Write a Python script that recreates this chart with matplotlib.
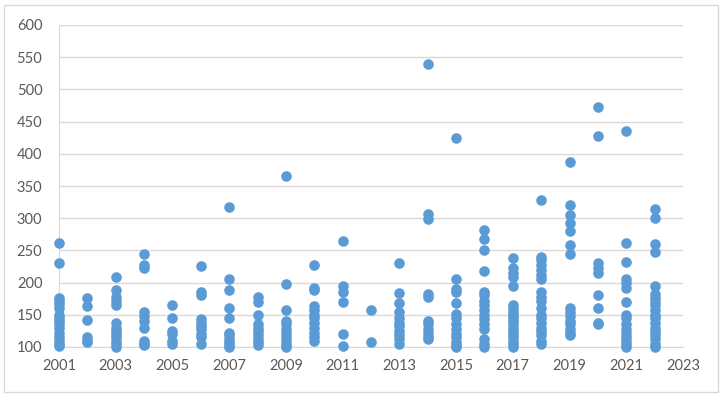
import matplotlib.pyplot as plt
from matplotlib.patches import Rectangle

# values, one list per year
values2001 = [262, 230, 176, 172, 167, 160, 150, 145, 140, 135, 130, 122, 115, 110, 105, 101]
values2002 = [176, 163, 142, 115, 110, 108]
values2003 = [208, 188, 178, 172, 165, 137, 130, 125, 120, 115, 110, 105, 100]
values2004 = [245, 228, 222, 155, 148, 140, 130, 110, 105, 103]
values2005 = [165, 145, 125, 120, 110, 105]
values2006 = [226, 185, 180, 143, 138, 133, 128, 120, 115, 105]
values2007 = [318, 205, 188, 160, 145, 122, 118, 113, 108, 103, 100]
values2008 = [178, 170, 150, 135, 130, 125, 118, 113, 108, 103]
values2009 = [365, 198, 158, 140, 135, 128, 122, 115, 110, 103, 100]
values2010 = [228, 192, 188, 163, 158, 150, 145, 138, 130, 122, 115, 110]
values2011 = [265, 195, 185, 170, 120, 102]
values2012 = [157, 107]
values2013 = [230, 184, 168, 155, 145, 138, 132, 125, 118, 112, 105]
values2014 = [540, 306, 298, 182, 178, 140, 135, 128, 122, 116, 112]
values2015 = [425, 206, 190, 185, 168, 152, 145, 135, 128, 120, 115, 108, 103, 100]
values2016 = [282, 268, 250, 218, 185, 180, 172, 165, 158, 150, 143, 135, 128, 112, 105, 100]
values2017 = [238, 222, 215, 208, 195, 165, 160, 155, 150, 145, 140, 135, 130, 125, 120, 115, 110, 105, 100]
values2018 = [328, 240, 235, 228, 220, 212, 205, 185, 178, 172, 160, 150, 145, 138, 130, 125, 118, 110, 105]
values2019 = [387, 320, 305, 292, 280, 258, 245, 160, 155, 148, 140, 135, 128, 122, 118]
values2020 = [472, 427, 230, 222, 215, 180, 160, 138, 135]
values2021 = [435, 262, 232, 205, 200, 192, 170, 150, 145, 135, 128, 122, 115, 110, 105, 100]
values2022 = [315, 300, 260, 248, 195, 182, 176, 170, 165, 158, 150, 145, 138, 130, 125, 118, 112, 105, 100]

years = list(range(2001, 2023))
allValues = [values2001, values2002, values2003, values2004, values2005, values2006,
             values2007, values2008, values2009, values2010, values2011, values2012,
             values2013, values2014, values2015, values2016, values2017, values2018,
             values2019, values2020, values2021, values2022]

xTicks = list(range(2001, 2024, 2))
yTicks = list(range(100, 601, 50))

xs = []
ys = []
for year, vals in zip(years, allValues):
    for v in vals:
        xs.append(year)
        ys.append(v)

plt.rcParams['font.family'] = ['Lato', 'DejaVu Sans']

fig = plt.figure(figsize=(7.23, 3.96), dpi=100)
ax = fig.add_axes([59 / 723, 1 - 347 / 396, (683 - 59) / 723, (347 - 25) / 396])

# light frame round the whole chart
fig.patches.append(Rectangle((4 / 723, 4 / 396), 714 / 723, 387 / 396, transform=fig.transFigure,
                             fill=False, edgecolor="#D9D9D9", linewidth=1))

ax.scatter(xs, ys, s=58, color="#5B9BD5", zorder=3, linewidths=0, clip_on=False)

ax.set_xlim(2001, 2023)
ax.set_ylim(100, 600)
ax.set_xticks(xTicks)
ax.set_yticks(yTicks)
ax.grid(axis="y", color="#D9D9D9", linewidth=1)
ax.set_axisbelow(True)

for side in ["top", "right"]:
    ax.spines[side].set_visible(False)
ax.spines["left"].set_color("#D9D9D9")
ax.spines["bottom"].set_color("#D9D9D9")
ax.tick_params(length=0, labelsize=10.5, colors="#595959")
ax.tick_params(axis="x", pad=9)
ax.tick_params(axis="y", pad=12)

fig.savefig("out.png", dpi=100)
